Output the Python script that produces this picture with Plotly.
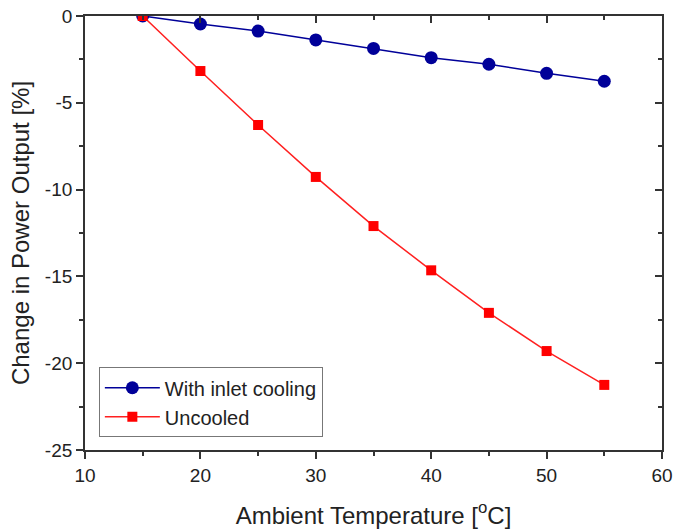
import plotly.graph_objects as go

temps = [15, 20, 25, 30, 35, 40, 45, 50, 55]
with_cooling = [0, -0.46, -0.87, -1.38, -1.87, -2.4, -2.78, -3.3, -3.76]
uncooled = [0, -3.17, -6.28, -9.27, -12.1, -14.65, -17.1, -19.3, -21.25]
y_tick_vals = [0, -5, -10, -15, -20, -25]
y_tick_text = ["0", "-5", "-10", "-15", "-20", "-25"]
x_tick_vals = [10, 20, 30, 40, 50, 60]

FONT = "Liberation Sans, Arial, sans-serif"
AX = "#333333"

fig = go.Figure()
fig.add_trace(go.Scatter(x=temps, y=with_cooling, mode="lines+markers", name="With inlet cooling",
                         line=dict(color="#000099", width=1.5),
                         marker=dict(symbol="circle", size=13, color="#000099")))
fig.add_trace(go.Scatter(x=temps, y=uncooled, mode="lines+markers", name="Uncooled",
                         line=dict(color="#FF2020", width=1.5),
                         marker=dict(symbol="square", size=10, color="#FF0000")))
# invisible trace to hold mirrored inward-tick axes
fig.add_trace(go.Scatter(x=[10], y=[0], xaxis="x2", yaxis="y2", mode="markers",
                         marker=dict(opacity=0), showlegend=False, hoverinfo="skip"))

fig.update_layout(
    width=675, height=529,
    paper_bgcolor="white", plot_bgcolor="white",
    margin=dict(l=85, r=13, t=16, b=79),
    font=dict(family=FONT, size=19, color="#222222"),
    xaxis=dict(range=[10, 60], tickvals=x_tick_vals, ticks="outside", ticklen=7, tickwidth=1.5,
               tickcolor=AX, showline=True, linecolor=AX, linewidth=1.8, showgrid=False,
               zeroline=False, mirror=False, automargin=False, ticklabeloverflow="allow",
               minor=dict(dtick=5, ticks="outside", ticklen=4, tickwidth=1.5, tickcolor=AX),
               title=dict(text="Ambient Temperature [<sup>o</sup>C]", font=dict(size=24), standoff=22)),
    yaxis=dict(range=[-25, 0], tickvals=y_tick_vals, ticktext=y_tick_text, ticks="outside",
               ticklen=7, tickwidth=1.5, ticklabeloverflow="allow",
               tickcolor=AX, showline=True, linecolor=AX, linewidth=1.8, showgrid=False,
               zeroline=False, mirror=False, automargin=False,
               minor=dict(dtick=2.5, ticks="outside", ticklen=4, tickwidth=1.5, tickcolor=AX),
               title=dict(text="Change in Power Output [%]", font=dict(size=24), standoff=8)),
    xaxis2=dict(range=[10, 60], dtick=10, overlaying="x", side="top", anchor="y2",
                ticks="inside", ticklen=7, tickwidth=1.5, tickcolor=AX, showticklabels=False,
                showline=True, linecolor=AX, linewidth=1.8, showgrid=False, zeroline=False,
                automargin=False,
                minor=dict(dtick=5, ticks="inside", ticklen=4, tickwidth=1.5, tickcolor=AX)),
    yaxis2=dict(range=[-25, 0], dtick=5, overlaying="y", side="right", anchor="x2",
                ticks="inside", ticklen=7, tickwidth=1.5, tickcolor=AX, showticklabels=False,
                showline=True, linecolor=AX, linewidth=1.8, showgrid=False, zeroline=False,
                automargin=False,
                minor=dict(dtick=2.5, ticks="inside", ticklen=4, tickwidth=1.5, tickcolor=AX)),
    legend=dict(x=0.024, y=0.11, xanchor="left", yanchor="middle",
                bgcolor="white", bordercolor="#777777", borderwidth=1,
                font=dict(size=20), tracegroupgap=0, itemwidth=55),
    showlegend=True,
)

fig.write_html("out.html", config={"displayModeBar": False},
               post_script="document.body.style.margin='0';document.body.style.overflow='hidden';")
